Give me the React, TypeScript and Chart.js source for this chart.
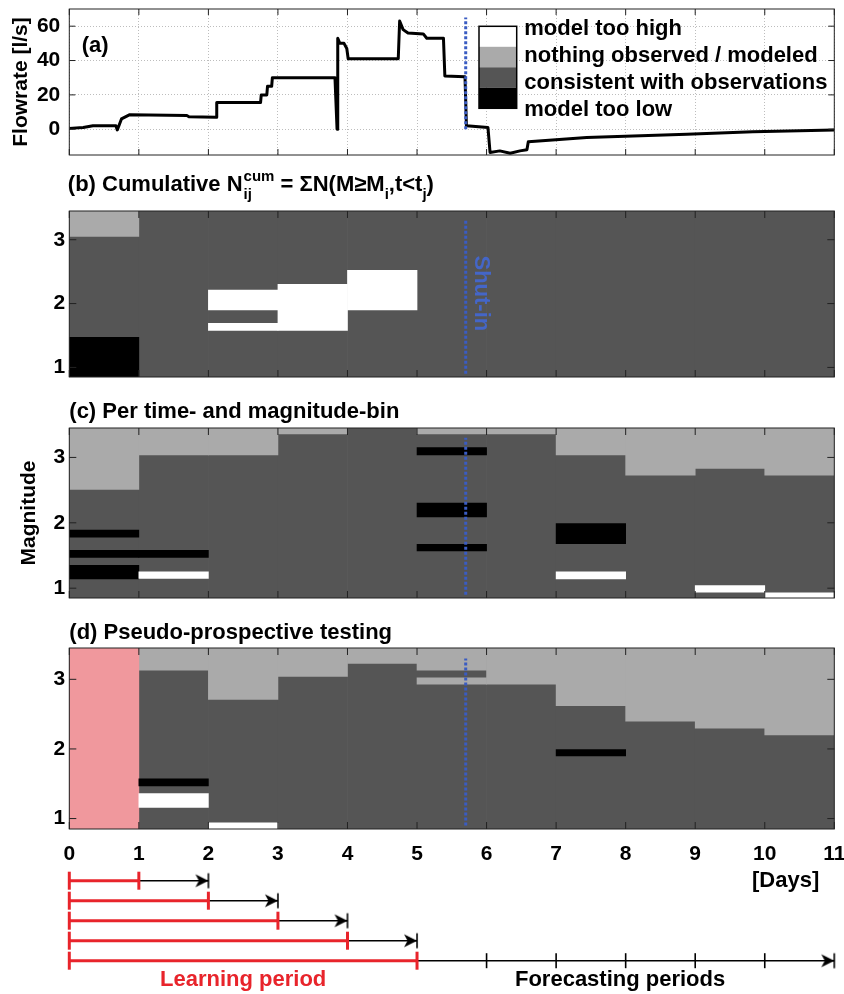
import React, { useEffect, useRef } from 'react';
import { Chart, registerables } from 'chart.js';

Chart.register(...registerables);

const FONT = "'Liberation Sans', Arial, Helvetica, sans-serif";
Chart.defaults.font.family = FONT;
Chart.defaults.color = '#000';

const WIDTH = 844;
const PLOT_LEFT = 69.3;
const PLOT_RIGHT_GAP = 9.7;

// Time axis: days since the start of injection
const DAY_TICKS = [0, 1, 2, 3, 4, 5, 6, 7, 8, 9, 10, 11];
const BIN_STARTS = [0, 1, 2, 3, 4, 5, 6, 7, 8, 9, 10];
const DAY_MAX = 11;
const SHUT_IN_DAY = 5.7;

// (a) Injection flow rate [l/s]
const FLOW_TICKS = [0, 20, 40, 60];
const FLOW_MIN = -15;
const FLOW_MAX = 70;
const FLOW_DAY = [0, 0.2, 0.34, 0.67, 0.69, 0.75, 0.87, 1.69, 1.72, 2.11, 2.12, 2.75, 2.76, 2.84, 2.85, 2.91, 2.92, 3.82, 3.85, 3.86, 3.89, 3.95, 3.99, 4.01, 4.73, 4.75, 4.8, 4.87, 5.09, 5.14, 5.38, 5.4, 5.69, 5.71, 6.02, 6.05, 6.19, 6.34, 6.48, 6.58, 6.6, 6.7, 7.44, 8.88, 9.83, 11];
const FLOW_RATE = [0.5, 1, 2, 2, -0.4, 6, 8.5, 8, 7.3, 7, 15.5, 15.5, 20, 20, 25, 25, 30, 30, 0, 53, 50, 50, 47, 41, 41, 63, 58, 56, 55.5, 53, 53, 31, 30.5, 2, 1, -13.5, -12.6, -14, -12.6, -12, -7.3, -7, -4.8, -2.9, -1.5, -0.5];
const SHUT_IN_FLOW = [0, 65];

// Magnitude axis shared by (b)-(d)
const MAG_TICKS = [1, 2, 3];
const MAG_MIN = 0.85;
const MAG_MAX = 3.45;
const SHUT_IN_MAG = [0.9, 3.3];

// Cells: [bin start day, lower magnitude, upper magnitude]
type Cell = [number, number, number];

// (b) cumulative counts
const CUM_NOTHING: Cell[] = [[0, 3.05, 3.45]];
const CUM_TOO_LOW: Cell[] = [[0, 0.85, 1.47]];
const CUM_TOO_HIGH: Cell[] = [[2, 1.9, 2.21], [2, 1.58, 1.69], [3, 1.58, 2.3], [4, 1.9, 2.52]];

// (c) per time- and magnitude-bin
const BIN_NOTHING: Cell[] = [[0, 2.51, 3.45], [1, 3.04, 3.45], [2, 3.04, 3.45], [3, 3.36, 3.45], [5, 3.36, 3.45], [6, 3.36, 3.45], [7, 3.04, 3.45], [8, 2.73, 3.45], [9, 2.83, 3.45], [10, 2.73, 3.45]];
const BIN_TOO_LOW: Cell[] = [[0, 1.78, 1.89], [0, 1.47, 1.58], [1, 1.47, 1.58], [0, 1.14, 1.35], [5, 3.04, 3.15], [5, 2.09, 2.3], [5, 1.57, 1.67], [7, 1.68, 1.99]];
const BIN_TOO_HIGH: Cell[] = [[1, 1.15, 1.25], [7, 1.14, 1.25], [9, 0.94, 1.04], [10, 0.85, 0.93]];

// (d) pseudo-prospective testing
const PP_LEARNING: Cell[] = [[0, 0.85, 3.45]];
const PP_NOTHING: Cell[] = [[1, 3.13, 3.45], [2, 2.71, 3.45], [3, 3.04, 3.45], [4, 3.23, 3.45], [5, 3.13, 3.45], [5, 2.93, 3.02], [6, 2.93, 3.45], [7, 2.62, 3.45], [8, 2.4, 3.45], [9, 2.3, 3.45], [10, 2.2, 3.45]];
const PP_TOO_LOW: Cell[] = [[1, 1.47, 1.57], [7, 1.9, 1.99]];
const PP_TOO_HIGH: Cell[] = [[1, 1.16, 1.36], [2, 0.85, 0.94]];

// Learning / forecasting windows
const LEARNING_ENDS = [1, 2, 3, 4, 5];
const FINAL_FORECAST_DAYS = [5, 6, 7, 8, 9, 10, 11];

const COLORS = {
  tooHigh: '#ffffff',
  nothing: '#aaaaaa',
  consistent: '#555555',
  tooLow: '#000000',
  learning: '#f0989d',
  shutIn: '#3a5cc2',
  red: '#e8242b',
  frame: '#222222',
};

const LEGEND_LABELS = ['model too high', 'nothing observed / modeled', 'consistent with observations', 'model too low'];
const LEGEND_COLORS = [COLORS.tooHigh, COLORS.nothing, COLORS.consistent, COLORS.tooLow];

const bold = (size: number) => ({ family: FONT, size, weight: 'bold' as const });

// ---------- scales ----------
function dayScale(axisHeight: number, opts: { labels?: boolean; grid?: boolean } = {}) {
  return {
    type: 'linear',
    min: 0,
    max: DAY_MAX,
    offset: false,
    afterBuildTicks: (s: any) => { s.ticks = DAY_TICKS.map((value) => ({ value })); },
    afterFit: (s: any) => { s.height = axisHeight; s.paddingLeft = 0; s.paddingRight = 0; },
    grid: opts.grid
      ? { display: true, drawTicks: false, offset: false, color: '#bdbdbd', lineWidth: 1 }
      : { display: false, drawTicks: false, offset: false },
    border: { display: false, dash: [1, 2] },
    ticks: { display: !!opts.labels, autoSkip: false, maxRotation: 0, padding: 12.5, color: '#000', font: bold(21) },
  };
}

const fixedYAxis = (s: any) => {
  s.width = PLOT_LEFT;
  s.paddingTop = 0;
  s.paddingBottom = 0;
};

function magScale(title?: string) {
  return {
    type: 'linear',
    min: MAG_MIN,
    max: MAG_MAX,
    afterBuildTicks: (s: any) => { s.ticks = MAG_TICKS.map((value) => ({ value })); },
    afterFit: fixedYAxis,
    grid: { display: false, drawTicks: false },
    border: { display: false },
    ticks: { padding: 4, color: '#000', font: bold(21) },
    title: title
      ? { display: true, text: title, color: '#000', font: bold(21), padding: { top: 17, bottom: 0 } }
      : { display: false },
  };
}

// ---------- datasets ----------
function cellBars(label: string, cells: Cell[], color: string, order: number) {
  return {
    type: 'bar',
    label,
    data: cells.map(([day, lo, hi]) => ({ x: day + 0.5, y: [lo, hi] })),
    backgroundColor: color,
    borderWidth: 0,
    grouped: false,
    barPercentage: 1,
    categoryPercentage: 1,
    order,
  };
}

function consistentColumns() {
  return BIN_STARTS.map((d) => [d, MAG_MIN, MAG_MAX] as Cell);
}

function shutInLine(range: number[]) {
  return {
    type: 'line',
    label: 'Shut-in',
    data: range.map((y) => ({ x: SHUT_IN_DAY, y })),
    borderColor: COLORS.shutIn,
    borderWidth: 3,
    borderDash: [3, 2],
    borderCapStyle: 'butt',
    pointRadius: 0,
    order: 0,
  };
}

// ---------- plugins ----------
const framePlugin = (tickLen: number) => ({
  id: 'frame',
  afterDatasetsDraw(chart: any) {
    const { ctx, chartArea: a, scales } = chart;
    const x = scales.x;
    const y = scales.y;
    ctx.save();
    ctx.strokeStyle = COLORS.frame;
    ctx.lineWidth = 1;
    ctx.beginPath();
    for (const t of x.ticks) {
      const px = x.getPixelForValue(t.value);
      ctx.moveTo(px, a.top);
      ctx.lineTo(px, a.top + tickLen);
      ctx.moveTo(px, a.bottom);
      ctx.lineTo(px, a.bottom - tickLen);
    }
    for (const t of y.ticks) {
      const py = y.getPixelForValue(t.value);
      ctx.moveTo(a.left, py);
      ctx.lineTo(a.left + tickLen, py);
      ctx.moveTo(a.right, py);
      ctx.lineTo(a.right - tickLen, py);
    }
    ctx.stroke();
    ctx.strokeRect(a.left, a.top, a.right - a.left, a.bottom - a.top);
    ctx.restore();
  },
});

const flowLegendPlugin = {
  id: 'flowLegend',
  afterDraw(chart: any) {
    const { ctx, chartArea: a } = chart;
    const boxX = a.left + 409.7;
    const boxY = a.top + 17.3;
    const boxW = 37.7;
    const rowH = 20.5;
    ctx.save();
    LEGEND_COLORS.forEach((c, i) => {
      ctx.fillStyle = c;
      ctx.fillRect(boxX, boxY + i * rowH, boxW, rowH);
    });
    ctx.strokeStyle = '#000';
    ctx.lineWidth = 1.5;
    ctx.strokeRect(boxX, boxY, boxW, rowH * LEGEND_COLORS.length);
    ctx.fillStyle = '#000';
    ctx.font = `bold 22px ${FONT}`;
    ctx.textAlign = 'left';
    ctx.textBaseline = 'alphabetic';
    LEGEND_LABELS.forEach((t, i) => {
      ctx.fillText(t, a.left + 455, a.top + 25.7 + i * 27.2);
    });
    ctx.fillText('(a)', a.left + 12.4, a.top + 43);
    ctx.restore();
  },
};

const cumulativeTitlePlugin = {
  id: 'cumTitle',
  afterDraw(chart: any) {
    const { ctx, chartArea: a } = chart;
    const big = `bold 22px ${FONT}`;
    const small = `bold 15px ${FONT}`;
    const base = 26;
    let x = a.left - 1.5;
    ctx.save();
    ctx.fillStyle = '#000';
    ctx.textAlign = 'left';
    ctx.textBaseline = 'alphabetic';
    const put = (text: string, font: string, dy: number) => {
      ctx.font = font;
      ctx.fillText(text, x, base + dy);
      return ctx.measureText(text).width;
    };
    x += put('(b) Cumulative N', big, 0) + 1;
    const wSup = put('cum', small, -10);
    const wSub = put('ij', small, 8);
    x += Math.max(wSup, wSub);
    x += put(' = \u03A3N(M\u2265M', big, 0);
    x += put('i', small, 8);
    x += put(',t<t', big, 0);
    x += put('j', small, 8);
    put(')', big, 0);
    ctx.restore();
  },
};

const shutInTextPlugin = {
  id: 'shutInText',
  afterDatasetsDraw(chart: any) {
    const { ctx, scales } = chart;
    const px = scales.x.getPixelForValue(5.92);
    const py = scales.y.getPixelForValue(2.16);
    ctx.save();
    ctx.translate(px, py);
    ctx.rotate(Math.PI / 2);
    ctx.fillStyle = '#4466c8';
    ctx.font = `bold 22px ${FONT}`;
    ctx.textAlign = 'center';
    ctx.textBaseline = 'middle';
    ctx.fillText('Shut-in', 0, 0);
    ctx.restore();
  },
};

const timelineTextPlugin = {
  id: 'timelineText',
  afterDraw(chart: any) {
    const { ctx, scales } = chart;
    const x = scales.x;
    const y = scales.y;
    ctx.save();
    ctx.font = `bold 22px ${FONT}`;
    ctx.textAlign = 'center';
    ctx.textBaseline = 'alphabetic';
    ctx.fillStyle = COLORS.red;
    ctx.fillText('Learning period', x.getPixelForValue(2.5), y.getPixelForValue(6.27));
    ctx.fillStyle = '#000';
    ctx.fillText('Forecasting periods', x.getPixelForValue(7.92), y.getPixelForValue(6.27));
    ctx.fillText('[Days]', x.getPixelForValue(10.3), y.getPixelForValue(1.3));
    ctx.restore();
  },
};

function makeArrowHead(): HTMLCanvasElement {
  const c = document.createElement('canvas');
  c.width = 34;
  c.height = 20;
  const g = c.getContext('2d')!;
  const cx = 17;
  const cy = 10;
  g.fillStyle = '#000';
  g.beginPath();
  g.moveTo(cx, cy);
  g.lineTo(cx - 13, cy - 6.5);
  g.lineTo(cx - 9.5, cy);
  g.lineTo(cx - 13, cy + 6.5);
  g.closePath();
  g.fill();
  g.strokeStyle = '#000';
  g.lineWidth = 1.6;
  g.beginPath();
  g.moveTo(cx, cy - 7.5);
  g.lineTo(cx, cy + 7.5);
  g.stroke();
  return c;
}

const baseOptions = {
  responsive: false,
  animation: false,
  events: [] as any[],
  plugins: { legend: { display: false }, tooltip: { enabled: false }, title: { display: false } },
};

const padding = (left: number, right: number, top: number, bottom: number) => ({
  autoPadding: false,
  padding: { left, right, top, bottom },
});

// ---------- configs ----------
function flowConfig(): any {
  return {
    type: 'line',
    data: {
      datasets: [
        shutInLine(SHUT_IN_FLOW),
        {
          label: 'Flowrate',
          data: FLOW_DAY.map((d, i) => ({ x: d, y: FLOW_RATE[i] })),
          borderColor: '#000',
          borderWidth: 3,
          pointRadius: 0,
          tension: 0,
          borderJoinStyle: 'round',
          order: 1,
        },
      ],
    },
    options: {
      ...baseOptions,
      layout: padding(0, PLOT_RIGHT_GAP, 9, 0),
      scales: {
        x: dayScale(10, { grid: true }),
        y: {
          type: 'linear',
          min: FLOW_MIN,
          max: FLOW_MAX,
          afterBuildTicks: (s: any) => { s.ticks = FLOW_TICKS.map((value) => ({ value })); },
          afterFit: fixedYAxis,
          grid: { display: true, drawTicks: false, color: '#bdbdbd', lineWidth: 1 },
          border: { display: false, dash: [1, 2] },
          ticks: { padding: 9, color: '#000', font: bold(21) },
          title: { display: true, text: 'Flowrate [l/s]', color: '#000', font: bold(21), padding: { top: 9, bottom: 0 } },
        },
      },
    },
    plugins: [framePlugin(6), flowLegendPlugin],
  };
}

function cumulativeConfig(): any {
  return {
    type: 'bar',
    data: {
      datasets: [
        shutInLine(SHUT_IN_MAG),
        cellBars('model too high', CUM_TOO_HIGH, COLORS.tooHigh, 2),
        cellBars('model too low', CUM_TOO_LOW, COLORS.tooLow, 2),
        cellBars('nothing observed / modeled', CUM_NOTHING, COLORS.nothing, 3),
        cellBars('consistent with observations', consistentColumns(), COLORS.consistent, 4),
      ],
    },
    options: {
      ...baseOptions,
      layout: padding(0, PLOT_RIGHT_GAP, 46, 0),
      scales: { x: dayScale(10), y: magScale() },
    },
    plugins: [framePlugin(7), cumulativeTitlePlugin, shutInTextPlugin],
  };
}

function perBinConfig(): any {
  return {
    type: 'bar',
    data: {
      datasets: [
        shutInLine(SHUT_IN_MAG),
        cellBars('model too high', BIN_TOO_HIGH, COLORS.tooHigh, 2),
        cellBars('model too low', BIN_TOO_LOW, COLORS.tooLow, 2),
        cellBars('nothing observed / modeled', BIN_NOTHING, COLORS.nothing, 3),
        cellBars('consistent with observations', consistentColumns(), COLORS.consistent, 4),
      ],
    },
    options: {
      ...baseOptions,
      plugins: {
        ...baseOptions.plugins,
        title: {
          display: true, text: '(c) Per time- and magnitude-bin', align: 'start', fullSize: false,
          color: '#000', font: bold(22), padding: { top: 11.3, bottom: 3.3 },
        },
      },
      layout: padding(0, PLOT_RIGHT_GAP, 0, 0),
      scales: { x: dayScale(12), y: magScale('Magnitude') },
    },
    plugins: [framePlugin(7)],
  };
}

function prospectiveConfig(): any {
  return {
    type: 'bar',
    data: {
      datasets: [
        shutInLine(SHUT_IN_MAG),
        cellBars('model too high', PP_TOO_HIGH, COLORS.tooHigh, 2),
        cellBars('model too low', PP_TOO_LOW, COLORS.tooLow, 2),
        cellBars('learning', PP_LEARNING, COLORS.learning, 3),
        cellBars('nothing observed / modeled', PP_NOTHING, COLORS.nothing, 3),
        cellBars('consistent with observations', consistentColumns(), COLORS.consistent, 4),
      ],
    },
    options: {
      ...baseOptions,
      plugins: {
        ...baseOptions.plugins,
        title: {
          display: true, text: '(d) Pseudo-prospective testing', align: 'start', fullSize: false,
          color: '#000', font: bold(22), padding: { top: 9.8, bottom: 1.8 },
        },
      },
      layout: padding(0, PLOT_RIGHT_GAP, 0, 0),
      scales: { x: dayScale(37, { labels: true }), y: magScale() },
    },
    plugins: [framePlugin(7)],
  };
}

function timelineConfig(arrow: HTMLCanvasElement): any {
  const learning = LEARNING_ENDS.map((end) => ({
    label: 'learning',
    data: [{ x: 0, y: end }, { x: end, y: end }],
    borderColor: COLORS.red,
    borderWidth: 3,
    pointStyle: 'line',
    rotation: 90,
    pointRadius: 9,
    pointBorderWidth: 3,
    pointBorderColor: COLORS.red,
    clip: false,
    order: 1,
  }));
  const forecasts = LEARNING_ENDS.filter((end) => end < FINAL_FORECAST_DAYS[0]).map((end) => ({
    label: 'forecast',
    data: [{ x: end, y: end }, { x: end + 1, y: end }],
    borderColor: '#000',
    borderWidth: 1.6,
    pointStyle: [false, arrow],
    pointRadius: [0, 8],
    rotation: 0,
    clip: false,
    order: 2,
  }));
  const lastRow = LEARNING_ENDS[LEARNING_ENDS.length - 1];
  const n = FINAL_FORECAST_DAYS.length;
  const finalForecast = {
    label: 'forecast',
    data: FINAL_FORECAST_DAYS.map((d) => ({ x: d, y: lastRow })),
    borderColor: '#000',
    borderWidth: 1.6,
    pointStyle: FINAL_FORECAST_DAYS.map((_, i) => (i === n - 1 ? arrow : 'line')),
    rotation: FINAL_FORECAST_DAYS.map((_, i) => (i === n - 1 ? 0 : 90)),
    pointRadius: FINAL_FORECAST_DAYS.map((_, i) => (i === 0 ? 0 : 7.5)),
    pointBorderWidth: 1.6,
    pointBorderColor: '#000',
    clip: false,
    order: 2,
  };
  return {
    type: 'line',
    data: { datasets: [...learning, ...forecasts, finalForecast] },
    options: {
      ...baseOptions,
      layout: padding(PLOT_LEFT, PLOT_RIGHT_GAP, 4.7, 3.3),
      scales: {
        x: { type: 'linear', min: 0, max: DAY_MAX, display: false },
        y: { type: 'linear', min: 0.5, max: 6.5, reverse: true, display: false },
      },
    },
    plugins: [timelineTextPlugin],
  };
}

const PANELS = [
  { key: 'flow', top: 0, height: 165 },
  { key: 'cum', top: 165, height: 222 },
  { key: 'bin', top: 387, height: 223 },
  { key: 'pp', top: 610, height: 256 },
  { key: 'time', top: 866, height: 128 },
];

export default function App() {
  const refs = [
    useRef<HTMLCanvasElement>(null),
    useRef<HTMLCanvasElement>(null),
    useRef<HTMLCanvasElement>(null),
    useRef<HTMLCanvasElement>(null),
    useRef<HTMLCanvasElement>(null),
  ];

  useEffect(() => {
    const arrow = makeArrowHead();
    const configs = [flowConfig(), cumulativeConfig(), perBinConfig(), prospectiveConfig(), timelineConfig(arrow)];
    const charts = configs.map((cfg, i) => new Chart(refs[i].current!, cfg));
    return () => charts.forEach((c) => c.destroy());
  }, []);

  return (
    <div style={{ position: 'absolute', left: 0, top: 0, width: WIDTH, height: 994, background: '#fff', overflow: 'hidden' }}>
      {PANELS.map((p, i) => (
        <canvas
          key={p.key}
          ref={refs[i]}
          width={WIDTH}
          height={p.height}
          style={{ position: 'absolute', left: 0, top: p.top, width: WIDTH, height: p.height, display: 'block' }}
        />
      ))}
    </div>
  );
}
